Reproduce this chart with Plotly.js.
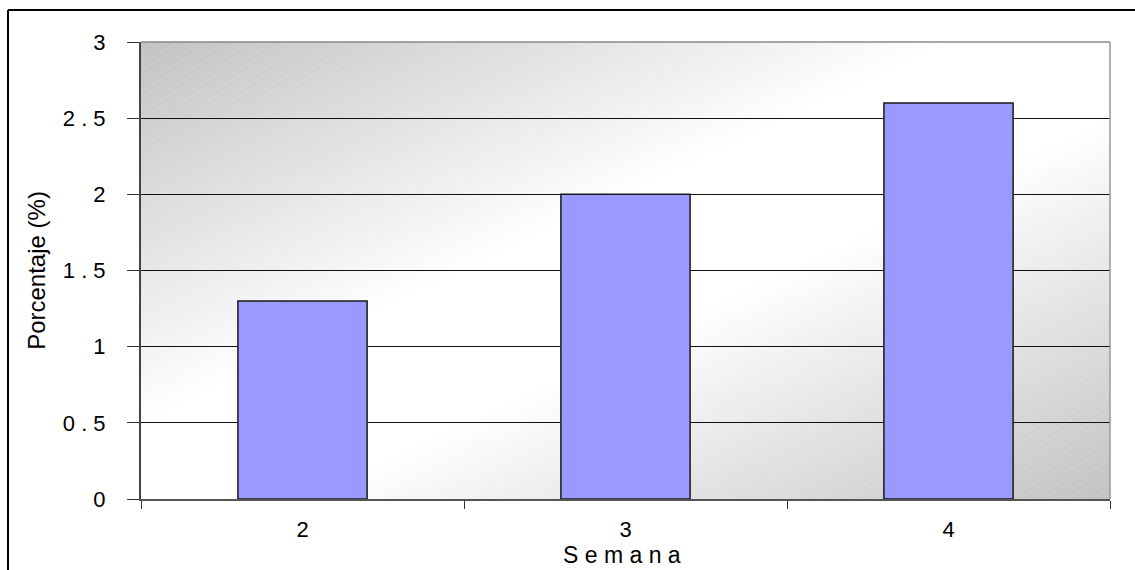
<!DOCTYPE html>
<html>
<head>
<meta charset="utf-8">
<script src="https://cdn.plot.ly/plotly-3.0.1.min.js"></script>
<style>
html,body{margin:0;padding:0;background:#fff;}
#chart{width:1135px;height:570px;}
</style>
</head>
<body>
<div id="chart"></div>
<script>
const categories = ["2", "3", "4"];
const values = [1.3, 2.0, 2.6];
const yTickVals = [0, 0.5, 1, 1.5, 2, 2.5, 3];
const yTickText = ["0", "0 . 5", "1", "1 . 5", "2", "2 . 5", "3"];
const xTitle = "S e m a n a";
const yTitle = "Porcentaje (%)";

const bgSvg =
  '<svg xmlns="http://www.w3.org/2000/svg" width="969" height="457" viewBox="0 0 969 457" preserveAspectRatio="none">' +
  '<defs>' +
  '<linearGradient id="g" x1="0" y1="0" x2="1" y2="1" gradientUnits="objectBoundingBox">' +
  '<stop offset="0" stop-color="#c2c2c2"/>' +
  '<stop offset="0.42" stop-color="#ffffff"/>' +
  '<stop offset="0.58" stop-color="#ffffff"/>' +
  '<stop offset="1" stop-color="#c2c2c2"/>' +
  '</linearGradient>' +
  '<pattern id="p" width="6" height="6" patternUnits="userSpaceOnUse" patternTransform="rotate(-30)">' +
  '<line x1="0" y1="0" x2="6" y2="0" stroke="#ffffff" stroke-opacity="0.35" stroke-width="1" stroke-dasharray="2,1"/>' +
  '</pattern>' +
  '</defs>' +
  '<rect width="969" height="457" fill="url(#g)"/>' +
  '<rect width="969" height="457" fill="url(#p)"/>' +
  '</svg>';
const bgUri = 'data:image/svg+xml;charset=utf-8,' + encodeURIComponent(bgSvg);

const trace = {
  type: 'bar',
  x: categories,
  y: values,
  width: 0.4,
  marker: {color: '#9999ff', line: {color: '#1a1a1a', width: 1.5}},
  hoverinfo: 'x+y'
};

const W = 1135, H = 570;
const L = 141, R = 25, T = 42, B = 71;
const pw = W - L - R, ph = H - T - B;
const px = v => (v - L) / pw;
const py = v => 1 - (v - T) / ph;

const layout = {
  width: W, height: H,
  margin: {l: L, r: R, t: T, b: B, pad: 0},
  paper_bgcolor: '#ffffff',
  plot_bgcolor: 'rgba(0,0,0,0)',
  font: {family: 'Liberation Sans, Arial, sans-serif', size: 22, color: '#000'},
  showlegend: false,
  bargap: 0.6,
  xaxis: {
    type: 'category',
    tickson: 'boundaries',
    ticks: 'outside',
    ticklen: 8,
    tickcolor: '#333',
    tickwidth: 1,
    ticklabelstandoff: 10,
    showgrid: false,
    showline: true,
    linecolor: '#555',
    linewidth: 2,
    mirror: false,
    zeroline: false,
    tickfont: {size: 22}
  },
  yaxis: {
    range: [0, 3],
    tickvals: yTickVals,
    ticktext: yTickText,
    ticks: 'outside',
    ticklen: 12,
    tickcolor: '#333',
    tickwidth: 1,
    ticklabelstandoff: 17,
    showgrid: true,
    gridcolor: '#111',
    gridwidth: 1,
    showline: true,
    linecolor: '#444',
    linewidth: 2,
    zeroline: false,
    tickfont: {size: 22},
    title: {text: yTitle, standoff: 10, font: {size: 24}}
  },
  annotations: [{
    text: xTitle, showarrow: false,
    xref: 'paper', yref: 'paper',
    x: px(622), y: py(555), xanchor: 'center', yanchor: 'middle',
    font: {size: 23}
  }],
  images: [{
    source: bgUri,
    xref: 'paper', yref: 'paper',
    x: 0, y: 1, sizex: 1, sizey: 1,
    xanchor: 'left', yanchor: 'top',
    sizing: 'stretch', layer: 'below'
  }],
  shapes: [
    {type: 'line', xref: 'paper', yref: 'paper', x0: 0, x1: 1, y0: 1, y1: 1, line: {color: '#888', width: 1.5}},
    {type: 'line', xref: 'paper', yref: 'paper', x0: 1, x1: 1, y0: 0, y1: 1, line: {color: '#999', width: 1.5}},
    {type: 'line', xref: 'paper', yref: 'paper', x0: px(8), x1: px(1140), y0: py(10), y1: py(10), line: {color: '#000', width: 2}},
    {type: 'line', xref: 'paper', yref: 'paper', x0: px(8), x1: px(8), y0: py(10), y1: py(575), line: {color: '#000', width: 2}}
  ]
};

Plotly.newPlot('chart', [trace], layout, {displayModeBar: false, staticPlot: true});
</script>
</body>
</html>
